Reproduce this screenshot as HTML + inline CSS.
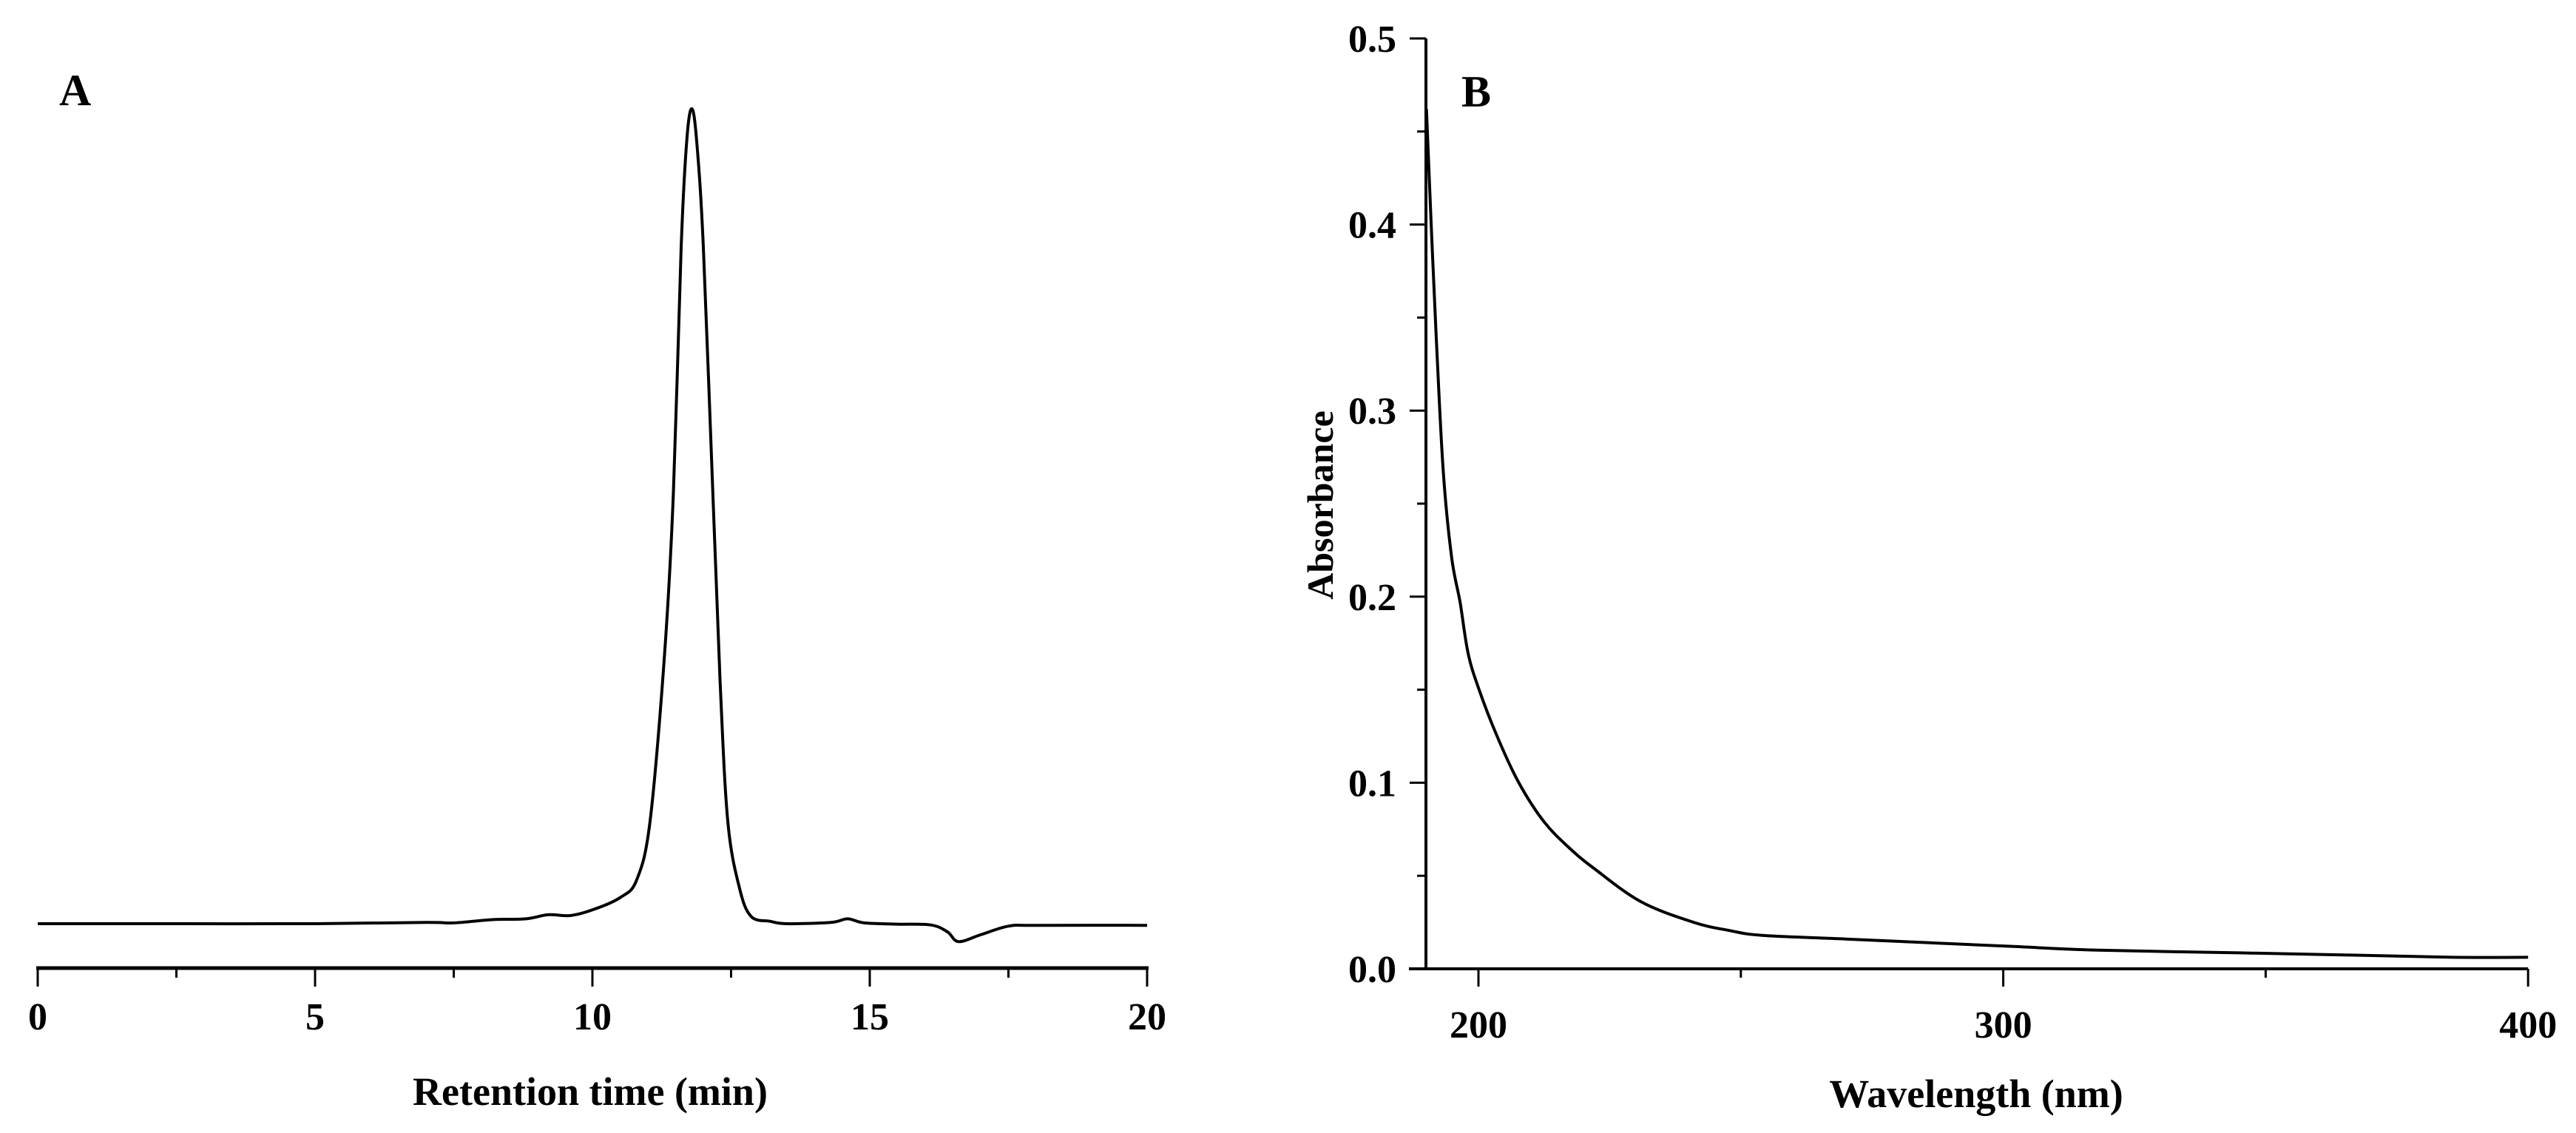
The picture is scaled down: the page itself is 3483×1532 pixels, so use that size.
<!DOCTYPE html>
<html><head><meta charset="utf-8"><style>
html,body{margin:0;padding:0;background:#fff;}
svg{display:block;font-family:"Liberation Serif",serif;font-weight:bold;}
</style></head><body>
<svg id="fig" width="3483" height="1532" viewBox="0 0 3483 1532" xmlns="http://www.w3.org/2000/svg">
<g id="pa"></g>
<g id="pb"></g>
</svg>
<script>
// Panel A data
const timesA = [0,2,5,7,7.5,8.2,8.8,9.2,9.6,10,10.5,10.8,11.04,11.3,11.46,11.6,11.7,11.79,11.88,12.0,12.17,12.3,12.44,12.65,12.86,13.2,13.5,14.3,14.6,14.9,15.5,16.1,16.4,16.6,17.0,17.5,18,20];
const signalA = [0,0,0,0.15,0.1,0.5,0.6,1.1,1.0,1.7,3.2,5.4,12.6,33,52.9,83,96,100,96,83,52.9,30,12.6,4.4,0.9,0.3,0,0.15,0.6,0.1,-0.05,-0.15,-1.0,-2.2,-1.35,-0.3,-0.2,-0.2];
const ticksA = [0,5,10,15,20];
const minorTicksA = [2.5,7.5,12.5,17.5];
// Panel B data
const wlB = [190.1,191,192,193.3,194.9,196.5,198,200,203.7,207.7,212.5,217.3,222,231,241,247.8,254,270,286,302,318,345,366,385.6,400];
const absB = [0.462,0.40,0.337,0.267,0.221,0.197,0.170,0.151,0.124,0.100,0.079,0.065,0.054,0.036,0.025,0.0206,0.018,0.016,0.014,0.012,0.010,0.0086,0.0074,0.0062,0.0062];
const ticksBx = [200,300,400];
const minorTicksBx = [250,350];
const ticksBy = [0,0.1,0.2,0.3,0.4,0.5];
const minorTicksBy = [0.05,0.15,0.25,0.35,0.45];

const NS="http://www.w3.org/2000/svg";
function mk(tag,attrs,parent,txt){const e=document.createElementNS(NS,tag);for(const k in attrs)e.setAttribute(k,attrs[k]);if(txt!==undefined)e.textContent=txt;parent.appendChild(e);return e;}
function smooth(pts){
  let d='M'+pts[0][0].toFixed(1)+','+pts[0][1].toFixed(1);
  for(let i=0;i<pts.length-1;i++){
    const p0=pts[Math.max(0,i-1)],p1=pts[i],p2=pts[i+1],p3=pts[Math.min(pts.length-1,i+2)];
    const c1=[p1[0]+(p2[0]-p0[0])/6,p1[1]+(p2[1]-p0[1])/6];
    const c2=[p2[0]-(p3[0]-p1[0])/6,p2[1]-(p3[1]-p1[1])/6];
    d+=' C'+c1[0].toFixed(1)+','+c1[1].toFixed(1)+' '+c2[0].toFixed(1)+','+c2[1].toFixed(1)+' '+p2[0].toFixed(1)+','+p2[1].toFixed(1);
  }
  return d;
}

// Panel A
const pa=document.getElementById('pa');
const xA=t=>51+t*75;
const yA=v=>1249-v*11.02;
let e=mk('line',{x1:xA(0)-2,x2:xA(20)+2,y1:1309,y2:1309,stroke:'#000','stroke-width':5},pa);


ticksA.forEach(t=>{
  let l=mk('line',{x1:xA(t),x2:xA(t),y1:1309,y2:1334,stroke:'#000','stroke-width':3},pa);
  
  
  let tx=mk('text',{x:xA(t),y:1392,'font-size':52,'text-anchor':'middle'},pa,String(t));
  
  
});
minorTicksA.forEach(t=>{
  let l=mk('line',{x1:xA(t),x2:xA(t),y1:1309,y2:1322,stroke:'#000','stroke-width':3},pa);
  
  
});
e=mk('text',{x:798,y:1494,'font-size':54,'text-anchor':'middle'},pa,'Retention time (min)');


e=mk('text',{x:80,y:142,'font-size':60},pa,'A');


e=mk('path',{d:smooth(timesA.map((t,i)=>[xA(t),yA(signalA[i])])),fill:'none',stroke:'#000','stroke-width':4,'stroke-linejoin':'round'},pa);



// Panel B
const pb=document.getElementById('pb');
const xB=w=>1999+(w-200)*7.096;
const yB=v=>1310-v*2516;
e=mk('line',{x1:1905,x2:xB(400),y1:1310,y2:1310,stroke:'#000','stroke-width':4},pb);


e=mk('line',{x1:xB(190),x2:xB(190),y1:1312,y2:yB(0.5),stroke:'#000','stroke-width':4},pb);


ticksBx.forEach(w=>{
  let l=mk('line',{x1:xB(w),x2:xB(w),y1:1310,y2:1334,stroke:'#000','stroke-width':3},pb);
  
  
  let tx=mk('text',{x:xB(w),y:1403,'font-size':52,'text-anchor':'middle'},pb,String(w));
  
  
});
minorTicksBx.forEach(w=>{
  let l=mk('line',{x1:xB(w),x2:xB(w),y1:1310,y2:1322,stroke:'#000','stroke-width':3},pb);
  
  
});
ticksBy.forEach(v=>{
  let l=mk('line',{x1:xB(190)-22,x2:xB(190),y1:yB(v),y2:yB(v),stroke:'#000','stroke-width':3},pb);
  
  
  let tx=mk('text',{x:1888,y:yB(v)+18,'font-size':52,'text-anchor':'end'},pb,v.toFixed(1));
  
  
});
minorTicksBy.forEach(v=>{
  let l=mk('line',{x1:xB(190)-12,x2:xB(190),y1:yB(v),y2:yB(v),stroke:'#000','stroke-width':3},pb);
  
  
});
e=mk('text',{x:2672,y:1497,'font-size':54,'text-anchor':'middle'},pb,'Wavelength (nm)');


e=mk('text',{x:0,y:0,'font-size':50,'text-anchor':'middle',transform:'translate(1802,683) rotate(-90)'},pb,'Absorbance');


e=mk('text',{x:1976,y:144,'font-size':60},pb,'B');


e=mk('path',{d:smooth(wlB.map((w,i)=>[xB(w),yB(absB[i])])),fill:'none',stroke:'#000','stroke-width':4,'stroke-linejoin':'round'},pb);


</script>
</body></html>
